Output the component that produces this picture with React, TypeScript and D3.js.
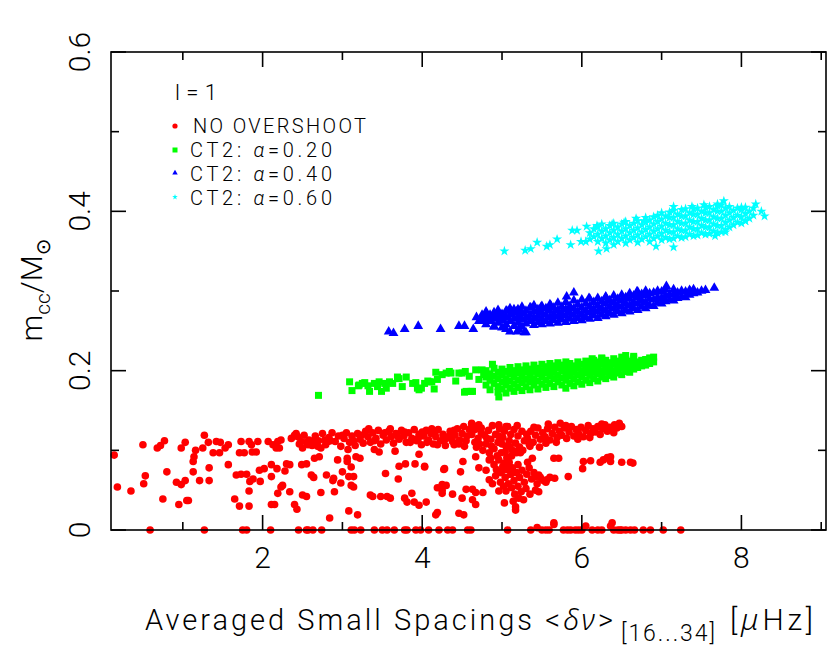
import React from 'react';
import * as d3 from 'd3';

const W = 830;
const H = 647;

// axes
const xDomain = [0.1, 9.06];
const yDomain = [0, 0.6];
const xMajor = [2, 4, 6, 8];
const xMinor = [1, 3, 5, 7, 9];
const yMajor = [0, 0.2, 0.4, 0.6];
const yMinor = [0.1, 0.3, 0.5];
const xTickLabels = ['2', '4', '6', '8'];
const yTickLabels = ['0', '0.2', '0.4', '0.6'];

const legendTitle = 'l=1';
const legendLabels = ['NO OVERSHOOT', 'CT2: ', 'CT2: ', 'CT2: '];
const legendAlphas = ['', '0.20', '0.40', '0.60'];

// NO OVERSHOOT (red dots)
const noOvershootSparse: [number, number][] = [
  [0.14,0.094],[0.18,0.054],[0.35,0.049],[0.50,0.107],[0.51,0.058],[0.53,0.068],[0.68,0.103],[0.72,0.106],
  [0.77,0.112],[0.75,0.039],[0.80,0.073],[0.92,0.060],[0.98,0.057],[1.03,0.062],[0.95,0.032],[1.05,0.037],
  [1.07,0.037],[0.98,0.103],[1.03,0.110],[1.13,0.086],[1.14,0.092],[1.16,0.100],[1.13,0.073],[1.21,0.062],
  [1.27,0.119],[1.25,0.103],[1.32,0.110],[1.33,0.078],[1.33,0.062],[1.38,0.097],[1.46,0.097],[1.42,0.111],
  [1.47,0.110],[1.53,0.103],[1.57,0.107],[1.57,0.082],[1.65,0.039],[1.67,0.069],[1.73,0.070],[1.71,0.030],
  [1.73,0.111],[1.71,0.097],[1.77,0.097],[1.80,0.070],[1.83,0.111],[1.86,0.107],[1.83,0.030],[1.84,0.061],
  [1.83,0.049],[1.88,0.064],[1.87,0.098],[1.92,0.098],[1.94,0.111],[1.96,0.075],[1.97,0.061],[2.02,0.077],
  [2.07,0.111],[2.13,0.107],[2.19,0.111],[2.23,0.113],[2.11,0.082],[2.11,0.067],[2.11,0.032],[2.15,0.032],
  [2.17,0.103],[2.21,0.103],[2.18,0.077],[2.19,0.046],[2.23,0.054],[2.25,0.056],[2.28,0.074],[2.30,0.083],
  [2.34,0.082],[2.34,0.048],[2.40,0.032],[2.43,0.026],[2.49,0.082],[2.55,0.083],[2.50,0.044],[2.55,0.042],
  [2.50,0.103],[2.61,0.069],[2.64,0.066],[2.65,0.090],[2.71,0.092],[2.73,0.047],[2.80,0.069],[2.84,0.015],
  [2.88,0.062],[2.90,0.048],[2.89,0.065],[2.94,0.088],[2.98,0.059],[3.00,0.073],[3.07,0.101],[3.06,0.086],
  [3.06,0.090],[3.08,0.067],[3.14,0.067],[3.11,0.056],[3.14,0.054],[3.08,0.024],[3.11,0.079],[3.19,0.019],
  [3.17,0.092],[3.22,0.090],[3.35,0.044],[3.38,0.042],[3.40,0.101],[3.46,0.098],[3.48,0.042],[3.56,0.042],
  [3.60,0.040],[3.54,0.071],[3.66,0.099],[3.70,0.064],[3.71,0.080],[3.79,0.083],[3.78,0.040],[3.81,0.035],
  [3.87,0.046],[3.90,0.035],[3.96,0.031],[4.05,0.035],[3.91,0.083],[3.96,0.095],[4.03,0.080],[4.17,0.019],
  [4.19,0.022],[4.19,0.053],[4.25,0.057],[4.25,0.046],[4.19,0.107],[4.28,0.077],[4.03,0.079],[4.27,0.076],
  [4.25,0.050],[4.30,0.056],[4.38,0.045],[4.50,0.040],[4.46,0.021],[4.52,0.019],[4.51,0.086],[4.48,0.073],
  [4.55,0.051],[4.63,0.051],[4.67,0.047],[4.76,0.047],[4.63,0.038],[4.67,0.032],[4.46,0.111],[4.40,0.107],
  [4.30,0.115],[4.67,0.092],[4.71,0.078],[4.84,0.088],[4.84,0.063],[5.03,0.034],[5.17,0.029],[5.17,0.025],
  [4.96,0.049],[5.05,0.049],[5.42,0.050],[5.46,0.048],[5.42,0.067],[5.46,0.069],[5.55,0.060],[5.65,0.090],
  [5.71,0.090],[5.66,0.065],[5.83,0.067],[6.02,0.086],[6.11,0.087],[6.01,0.077],[6.23,0.085],[6.27,0.088],
  [6.32,0.091],[6.36,0.092],[6.36,0.086],[6.50,0.085],[6.61,0.085],[6.64,0.084],[5.03,0.084],[5.07,0.084],
  [5.19,0.099],[5.23,0.097],[5.65,0.009],[6.38,0.009],[5.44,0.003],[6.05,0.005],[6.36,0.005],[5.65,0.007],
];
const noOvershootZero = [
  0.59, 1.27, 1.75, 1.80, 2.10, 2.45, 2.55, 2.57, 2.63, 2.74, 3.11, 3.15, 3.23, 3.40, 3.50, 3.56, 3.65, 3.78,
  3.81, 3.92, 3.98, 4.08, 4.21, 4.32, 4.38, 4.57, 4.61, 5.07, 5.36, 5.50, 5.55, 5.59, 5.77, 5.82, 5.86, 5.92,
  5.96, 6.00, 6.13, 6.20, 6.25, 6.40, 6.45, 6.48, 6.50, 6.55, 6.61, 6.66, 6.77, 6.86, 7.02, 7.24,
];
const noOvershootBand: [number, number][] = [
  [2.36,0.115],[2.42,0.121],[2.46,0.108],[2.52,0.119],[2.58,0.113],[2.62,0.106],[2.66,0.118],[2.70,0.112],
  [2.75,0.121],[2.79,0.107],[2.83,0.116],[2.87,0.122],[2.91,0.111],[2.95,0.118],[2.98,0.105],[3.02,0.115],
  [3.05,0.122],[3.09,0.110],[3.12,0.118],[3.16,0.106],[3.19,0.121],[3.22,0.114],[3.26,0.109],[3.29,0.124],
  [3.32,0.117],[3.35,0.110],[3.38,0.122],[3.42,0.115],[3.45,0.125],[3.48,0.108],[3.51,0.119],[3.55,0.113],
  [3.58,0.124],[3.61,0.117],[3.64,0.109],[3.67,0.121],[3.71,0.114],[3.74,0.125],[3.77,0.118],[3.80,0.110],
  [3.83,0.122],[3.87,0.115],[3.90,0.126],[3.93,0.112],[3.96,0.120],[3.99,0.107],[4.02,0.118],[4.05,0.125],
  [4.08,0.113],[4.11,0.121],[4.14,0.108],[4.17,0.117],[4.20,0.126],[4.23,0.112],[4.26,0.120],[4.29,0.106],
  [4.32,0.117],[4.35,0.124],[4.38,0.111],[4.41,0.119],[4.44,0.127],[4.47,0.113],[4.50,0.121],[4.53,0.105],
  [4.56,0.118],[4.59,0.126],[4.62,0.133],[4.66,0.110],[4.70,0.131],[4.74,0.122],[2.55,0.110],[2.85,0.112],
  [3.00,0.119],[3.14,0.112],[3.24,0.119],[3.40,0.112],[3.53,0.122],[3.69,0.118],[3.85,0.110],[3.95,0.115],
  [4.06,0.110],[4.16,0.123],[4.27,0.114],[4.36,0.118],[4.46,0.108],[4.55,0.112],[3.33,0.127],[3.60,0.127],
  [3.78,0.123],[4.00,0.123],[4.12,0.127],[4.40,0.125],[4.52,0.130],[2.61,0.111],[2.67,0.111],[2.69,0.105],
  [2.73,0.103],[2.78,0.113],[2.82,0.111],[2.40,0.119],[2.44,0.117],[2.48,0.111],[2.57,0.107],
  [4.62,0.134],[4.71,0.132],[4.96,0.132],[5.05,0.130],[5.19,0.131],
];
const noOvershootFan: [number, number][] = [
  [4.62,0.120],[4.66,0.126],[4.70,0.115],[4.74,0.128],[4.78,0.119],[4.80,0.108],[4.83,0.125],[4.86,0.114],
  [4.88,0.131],[4.90,0.102],[4.92,0.120],[4.95,0.110],[4.97,0.127],[4.99,0.097],[5.01,0.116],[5.03,0.124],
  [5.05,0.105],[5.07,0.130],[5.09,0.112],[5.11,0.120],[5.13,0.100],[5.15,0.126],[5.17,0.109],[5.20,0.118],
  [5.22,0.104],[5.25,0.124],[5.28,0.112],[5.31,0.120],[5.34,0.108],[4.68,0.104],[4.76,0.100],[4.84,0.097],
  [4.94,0.093],[5.06,0.091],[5.12,0.093],[4.72,0.108],[4.81,0.115],[4.87,0.105],[4.96,0.118],[5.00,0.108],
  [5.04,0.098],[5.10,0.104],[5.18,0.097],[5.26,0.100],[4.86,0.090],[4.90,0.082],[4.93,0.076],[4.96,0.088],
  [4.99,0.072],[5.01,0.080],[5.04,0.066],[5.06,0.076],[5.09,0.085],[5.11,0.070],[5.13,0.078],[5.15,0.062],
  [5.18,0.072],[5.20,0.082],[5.22,0.066],[5.25,0.075],[5.28,0.060],[5.31,0.070],[5.34,0.078],[5.37,0.064],
  [5.40,0.072],[5.44,0.058],[5.48,0.066],[5.52,0.062],[5.56,0.063],[5.60,0.066],[4.92,0.068],[4.98,0.060],
  [5.08,0.058],[5.12,0.053],[5.20,0.055],[5.24,0.048],[5.30,0.052],[5.35,0.045],[4.80,0.075],[4.88,0.058],
  [5.02,0.055],[5.16,0.045],[5.21,0.040],[5.27,0.038],[5.14,0.036],[5.32,0.085],[5.38,0.090],
  [5.32,0.115],[5.36,0.124],[5.39,0.110],[5.42,0.119],[5.45,0.128],[5.48,0.114],[5.51,0.122],[5.54,0.117],
  [5.57,0.127],[5.60,0.113],[5.63,0.121],[5.66,0.129],[5.69,0.116],[5.72,0.124],[5.75,0.119],[5.78,0.128],
  [5.81,0.115],[5.84,0.123],[5.87,0.130],[5.90,0.118],[5.93,0.126],[5.96,0.121],[5.99,0.129],[6.02,0.117],
  [6.05,0.125],[6.08,0.131],[6.11,0.121],[6.14,0.127],[6.17,0.123],[6.20,0.130],[6.23,0.120],[6.26,0.127],
  [6.29,0.132],[6.32,0.124],[6.35,0.129],[6.38,0.126],[6.41,0.132],[6.44,0.128],[6.47,0.134],[6.50,0.130],
  [5.40,0.129],[5.55,0.109],[5.68,0.110],[5.80,0.131],[5.95,0.114],[6.10,0.116],[6.25,0.133],[6.40,0.122],
  [5.35,0.105],[5.47,0.104],[5.58,0.133],[5.73,0.134],
];

// CT2 alpha=0.20 (green squares)
const ct2a20Sparse: [number, number][] = [
  [2.70,0.169],[3.09,0.186],[3.12,0.175],[3.20,0.181],[3.28,0.185],[3.34,0.174],[3.46,0.186],[3.49,0.174],
  [3.59,0.186],[3.69,0.192],[3.80,0.192],[3.92,0.185],[3.96,0.176],[4.09,0.186],[4.15,0.177],[4.17,0.198],
  [4.30,0.197],[4.53,0.173],[4.61,0.174],[3.21,0.182],[3.25,0.184],[3.32,0.181],[3.40,0.184],[3.44,0.180],
  [3.53,0.184],[3.55,0.178],[3.63,0.184],[3.71,0.190],[3.75,0.180],[3.88,0.184],[3.94,0.178],[4.03,0.184],
  [4.07,0.187],[4.19,0.189],[4.25,0.195],[4.36,0.197],[4.42,0.187],[4.46,0.197],[4.54,0.199],[4.59,0.193],
  [4.67,0.201],[4.71,0.189],[4.77,0.195],[3.99,0.178],[4.12,0.186],[4.34,0.199],[4.50,0.197],[4.55,0.174],
  [4.63,0.174],[4.75,0.201],[4.88,0.208],[6.55,0.219],[6.65,0.218],[6.25,0.216],[6.13,0.215],[4.96,0.167],
];
const ct2a20Band: [number, number[]][] = [
  [4.80,[0.182,0.192,0.200]],[4.85,[0.176,0.188,0.196]],[4.90,[0.184,0.193,0.203]],
  [4.95,[0.173,0.180,0.190,0.198]],[5.00,[0.177,0.186,0.195,0.202]],[5.05,[0.172,0.182,0.190,0.199]],
  [5.10,[0.178,0.187,0.196,0.204]],[5.15,[0.174,0.183,0.192,0.200]],[5.20,[0.179,0.188,0.197,0.205]],
  [5.25,[0.175,0.185,0.193,0.201]],[5.30,[0.180,0.189,0.198,0.206]],[5.35,[0.176,0.186,0.194,0.202]],
  [5.40,[0.182,0.190,0.199,0.207]],[5.45,[0.177,0.187,0.196,0.203]],[5.50,[0.183,0.192,0.200,0.208]],
  [5.55,[0.179,0.188,0.197,0.205]],[5.60,[0.184,0.193,0.201,0.209]],[5.65,[0.180,0.190,0.198,0.206]],
  [5.70,[0.186,0.194,0.203,0.210]],[5.75,[0.182,0.191,0.200,0.207]],[5.80,[0.178,0.188,0.196,0.204,0.211]],
  [5.85,[0.184,0.193,0.201,0.209]],[5.90,[0.181,0.190,0.198,0.206]],[5.95,[0.186,0.195,0.203,0.211]],
  [6.00,[0.183,0.192,0.200,0.208]],[6.05,[0.188,0.197,0.205,0.212]],[6.10,[0.185,0.194,0.202,0.210]],
  [6.15,[0.190,0.198,0.206,0.213]],[6.20,[0.187,0.196,0.204,0.211]],[6.25,[0.192,0.200,0.208,0.215]],
  [6.30,[0.190,0.198,0.206,0.213]],[6.35,[0.194,0.202,0.210]],[6.40,[0.192,0.200,0.208,0.215]],
  [6.45,[0.197,0.205,0.212]],[6.50,[0.195,0.203,0.210,0.217]],[6.55,[0.199,0.207,0.214]],
  [6.60,[0.198,0.205,0.212]],[6.65,[0.202,0.209,0.216]],[6.70,[0.204,0.211]],[6.75,[0.206,0.213]],
  [6.80,[0.207,0.214]],[6.85,[0.209,0.216]],[6.90,[0.211,0.217]],
];

// CT2 alpha=0.40 (blue triangles)
const ct2a40Sparse: [number, number][] = [
  [3.58,0.249],[3.64,0.247],[3.78,0.252],[3.95,0.256],[4.23,0.252],[4.46,0.256],[4.53,0.256],[4.64,0.252],
  [4.68,0.267],[4.80,0.271],[5.19,0.249],[5.28,0.248],[5.21,0.252],[4.71,0.262],[4.75,0.268],[4.84,0.264],
  [4.90,0.268],[4.96,0.270],[5.00,0.264],[5.06,0.275],[5.12,0.271],[5.19,0.275],[5.15,0.277],[5.36,0.279],
  [5.49,0.280],[5.61,0.282],[5.81,0.293],[5.90,0.298],[6.09,0.291],[6.30,0.293],[6.69,0.299],[7.06,0.306],
  [7.36,0.299],[7.66,0.304],[5.30,0.248],[4.90,0.255],[5.05,0.252],[5.10,0.249],
];
const ct2a40Band: [number, number[]][] = [
  [4.75,[0.262,0.270]],[4.80,[0.258,0.266,0.274]],[4.85,[0.262,0.270]],[4.90,[0.256,0.265,0.273]],
  [4.95,[0.260,0.268,0.276]],[5.00,[0.254,0.263,0.271]],[5.05,[0.258,0.267,0.275]],[5.10,[0.262,0.270,0.278]],
  [5.15,[0.256,0.265,0.273]],[5.20,[0.260,0.268,0.277]],[5.25,[0.255,0.264,0.272,0.280]],
  [5.30,[0.259,0.267,0.275]],[5.35,[0.262,0.270,0.279]],[5.40,[0.257,0.266,0.274,0.282]],
  [5.45,[0.261,0.269,0.277]],[5.50,[0.258,0.265,0.273,0.281]],[5.55,[0.262,0.270,0.278]],
  [5.60,[0.259,0.267,0.275,0.283]],[5.65,[0.263,0.271,0.279]],[5.70,[0.260,0.268,0.276,0.285]],
  [5.75,[0.264,0.272,0.280]],[5.80,[0.261,0.269,0.277,0.286]],[5.85,[0.265,0.273,0.281]],
  [5.90,[0.262,0.270,0.278,0.288]],[5.95,[0.266,0.274,0.283]],[6.00,[0.263,0.271,0.279,0.289]],
  [6.05,[0.267,0.275,0.284]],[6.10,[0.265,0.273,0.281,0.290]],[6.15,[0.269,0.277,0.286]],
  [6.20,[0.266,0.274,0.282,0.291]],[6.25,[0.270,0.278,0.287]],[6.30,[0.268,0.276,0.284,0.292]],
  [6.35,[0.272,0.280,0.288]],[6.40,[0.270,0.278,0.286,0.294]],[6.45,[0.274,0.282,0.290]],
  [6.50,[0.272,0.280,0.288,0.295]],[6.55,[0.276,0.284,0.292]],[6.60,[0.274,0.282,0.290,0.297]],
  [6.65,[0.278,0.286,0.294]],[6.70,[0.276,0.284,0.292,0.299]],[6.75,[0.280,0.288,0.296]],
  [6.80,[0.278,0.286,0.294,0.300]],[6.85,[0.282,0.290,0.297]],[6.90,[0.281,0.289,0.298]],
  [6.95,[0.285,0.292,0.300]],[7.00,[0.284,0.291,0.299]],[7.05,[0.287,0.294,0.302]],[7.10,[0.289,0.296]],
  [7.15,[0.288,0.295,0.302]],[7.20,[0.291,0.298]],[7.25,[0.293,0.300]],[7.30,[0.292,0.299]],
  [7.35,[0.295,0.301]],[7.40,[0.297,0.302]],[7.45,[0.298]],[7.50,[0.300]],[7.55,[0.301]],
];

// CT2 alpha=0.60 (cyan stars)
const ct2a60Sparse: [number, number][] = [
  [5.03,0.350],[5.29,0.351],[5.36,0.353],[5.44,0.361],[5.56,0.356],[5.60,0.358],[5.69,0.365],[5.86,0.358],
  [5.88,0.376],[5.94,0.376],[5.99,0.362],[6.06,0.381],[6.05,0.362],[6.19,0.382],[6.21,0.350],[6.31,0.353],
  [7.15,0.355],[6.93,0.356],[6.38,0.384],[6.53,0.386],[6.68,0.391],[6.78,0.388],[7.15,0.406],[7.38,0.406],
  [7.53,0.408],[7.70,0.409],[7.78,0.413],[8.00,0.405],[8.18,0.409],[8.25,0.400],[8.29,0.394],[8.05,0.388],
  [7.80,0.374],[7.67,0.369],
];
const ct2a60Band: [number, number[]][] = [
  [6.10,[0.365,0.373]],[6.15,[0.368,0.378]],[6.20,[0.362,0.371,0.380]],[6.25,[0.366,0.375,0.384]],
  [6.30,[0.360,0.369,0.378]],[6.35,[0.364,0.373,0.382]],[6.40,[0.358,0.367,0.376,0.385]],
  [6.45,[0.362,0.371,0.380]],[6.50,[0.366,0.375,0.384]],[6.55,[0.360,0.369,0.378,0.387]],
  [6.60,[0.364,0.373,0.382]],[6.65,[0.367,0.376,0.385]],[6.70,[0.361,0.370,0.379,0.388]],
  [6.75,[0.365,0.374,0.383]],[6.80,[0.368,0.377,0.386,0.392]],[6.85,[0.362,0.371,0.380,0.389]],
  [6.90,[0.366,0.375,0.384,0.393]],[6.95,[0.369,0.378,0.387,0.395]],[7.00,[0.364,0.372,0.381,0.390,0.398]],
  [7.05,[0.367,0.376,0.385,0.394]],[7.10,[0.365,0.374,0.383,0.392,0.399]],[7.15,[0.366,0.374,0.383,0.392,0.401]],
  [7.20,[0.369,0.378,0.387,0.396]],[7.25,[0.367,0.376,0.385,0.394,0.402]],[7.30,[0.368,0.376,0.385,0.394,0.403]],
  [7.35,[0.371,0.380,0.389,0.398]],[7.40,[0.369,0.378,0.387,0.396,0.403]],[7.45,[0.370,0.378,0.387,0.396,0.404]],
  [7.50,[0.373,0.382,0.391,0.400]],[7.55,[0.371,0.380,0.389,0.398,0.405]],[7.60,[0.372,0.380,0.389,0.398,0.406]],
  [7.65,[0.375,0.384,0.393,0.402]],[7.70,[0.373,0.382,0.391,0.400,0.407]],[7.75,[0.374,0.382,0.391,0.400,0.408]],
  [7.80,[0.377,0.386,0.395,0.404]],[7.85,[0.380,0.389,0.398,0.406]],[7.90,[0.383,0.392,0.401]],
  [7.95,[0.386,0.395,0.404]],[8.00,[0.385,0.393,0.402]],[8.05,[0.388,0.397,0.405]],[8.10,[0.391,0.400]],
  [8.15,[0.395,0.404]],
];

const flatten = (cols: [number, number[]][]) =>
  cols.flatMap(([x, ys]) => ys.map((y) => [x, y] as [number, number]));

const red = [
  ...noOvershootSparse,
  ...noOvershootZero.map((x) => [x, 0] as [number, number]),
  ...noOvershootBand,
  ...noOvershootFan,
];
const green = [...ct2a20Sparse, ...flatten(ct2a20Band)];
const blue = [...ct2a40Sparse, ...flatten(ct2a40Band)];
const cyan = [...ct2a60Sparse, ...flatten(ct2a60Band)];

const FONT = 'Roboto, "DejaVu Sans", sans-serif';
const GREEK = '"Noto Sans", "DejaVu Sans", sans-serif';

export default function App() {
  const left = 111, right = 826, top = 52, bottom = 530;
  const x = d3.scaleLinear().domain(xDomain).range([left, right]);
  const y = d3.scaleLinear().domain(yDomain).range([bottom, top]);

  const tri = d3.symbol().type(d3.symbolTriangle).size(42)()!;
  const star = d3.symbol().type(d3.symbolStar).size(32)()!;
  const triSmall = d3.symbol().type(d3.symbolTriangle).size(13)()!;
  const starSmall = d3.symbol().type(d3.symbolStar).size(10)()!;

  const major = 15, minor = 8;

  return (
    <svg width={W} height={H} style={{ position: 'absolute', left: 0, top: 0, background: '#fff' }}
      fontFamily={FONT} fontWeight={300}>
      <rect x={0} y={0} width={W} height={H} fill="#fff" />

      {/* points */}
      <g fill="#ff0000">
        {red.map(([a, b], i) => <circle key={i} cx={x(a)} cy={y(b)} r={3.8} />)}
      </g>
      <g fill="#00ff00">
        {green.map(([a, b], i) => <rect key={i} x={x(a) - 3.5} y={y(b) - 3.5} width={7} height={7} />)}
      </g>
      <g fill="#0000ff">
        {blue.map(([a, b], i) => <path key={i} d={tri} transform={`translate(${x(a)},${y(b)})`} />)}
      </g>
      <g fill="#00ffff">
        {cyan.map(([a, b], i) => <path key={i} d={star} transform={`translate(${x(a)},${y(b)})`} />)}
      </g>

      {/* frame and ticks */}
      <g stroke="#000" strokeWidth={1.6} fill="none">
        <rect x={left} y={top} width={right - left} height={bottom - top} />
        {xMajor.map((v) => (
          <g key={'xM' + v}>
            <line x1={x(v)} x2={x(v)} y1={bottom} y2={bottom - major} />
            <line x1={x(v)} x2={x(v)} y1={top} y2={top + major} />
          </g>
        ))}
        {xMinor.map((v) => (
          <g key={'xm' + v}>
            <line x1={x(v)} x2={x(v)} y1={bottom} y2={bottom - minor} />
            <line x1={x(v)} x2={x(v)} y1={top} y2={top + minor} />
          </g>
        ))}
        {yMajor.map((v) => (
          <g key={'yM' + v}>
            <line x1={left} x2={left + major} y1={y(v)} y2={y(v)} />
            <line x1={right} x2={right - major} y1={y(v)} y2={y(v)} />
          </g>
        ))}
        {yMinor.map((v) => (
          <g key={'ym' + v}>
            <line x1={left} x2={left + minor} y1={y(v)} y2={y(v)} />
            <line x1={right} x2={right - minor} y1={y(v)} y2={y(v)} />
          </g>
        ))}
      </g>

      {/* tick labels */}
      <g fontSize={30} fill="#000" textAnchor="middle">
        {xMajor.map((v, i) => (
          <text key={'xl' + v} x={x(v)} y={568}>{xTickLabels[i]}</text>
        ))}
        {yMajor.map((v, i) => (
          <text key={'yl' + v} transform={`translate(90,${y(v)}) rotate(-90)`}>{yTickLabels[i]}</text>
        ))}
      </g>

      {/* axis titles */}
      <text x={145} y={630} fontSize={29} textLength={468} lengthAdjust="spacing">
        Averaged Small Spacings &lt;<tspan fontFamily={GREEK} fontWeight={300} fontStyle="italic">δν</tspan>&gt;
      </text>
      <text x={621} y={641} fontSize={23} textLength={94} lengthAdjust="spacing">[16...34]</text>
      <text x={730} y={630} fontSize={30} textLength={83} lengthAdjust="spacing">
        [<tspan fontFamily={GREEK} fontWeight={300} fontStyle="italic">μ</tspan>Hz]
      </text>

      <text transform="translate(42,290) rotate(-90)" textAnchor="middle" fontSize={30}>
        m<tspan fontSize={21} dy={8}>cc</tspan><tspan dy={-8}>/M</tspan>
        <tspan fontSize={20} dy={8} fontFamily='"DejaVu Sans"' fontWeight={400}>⊙</tspan>
      </text>

      {/* legend */}
      <text x={175} y={100} fontSize={22} textLength={42} lengthAdjust="spacing">{legendTitle}</text>
      <circle cx={175} cy={126} r={2.6} fill="#ff0000" />
      <rect x={172.5} y={147.5} width={5} height={5} fill="#00ff00" />
      <path d={triSmall} transform="translate(175,173)" fill="#0000ff" />
      <path d={starSmall} transform="translate(175,197)" fill="#00ffff" />
      <text x={193} y={133} fontSize={20} textLength={173} lengthAdjust="spacing">{legendLabels[0]}</text>
      {[1, 2, 3].map((k) => (
        <text key={k} x={190} y={133 + 24 * k} fontSize={20} textLength={142} lengthAdjust="spacing">
          {legendLabels[k]}<tspan fontStyle="italic">α</tspan>={legendAlphas[k]}
        </text>
      ))}
    </svg>
  );
}
